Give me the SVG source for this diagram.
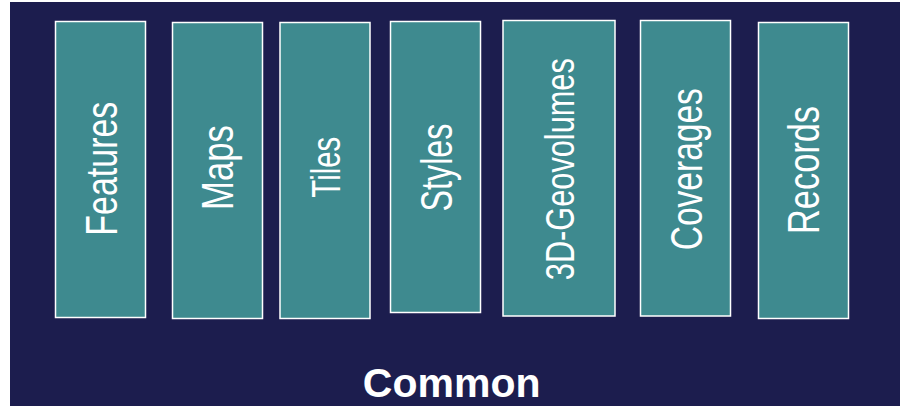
<svg xmlns="http://www.w3.org/2000/svg" width="900" height="406" viewBox="0 0 900 406">
  <style>
    .bg { fill: #1c1d4e; }
    .box { fill: #3e8a8f; stroke: #ffffff; stroke-width: 1.5; }
    .lbl { fill: #ffffff; font-family: "Liberation Sans", Arial, sans-serif; font-size: 44px; text-anchor: middle; }
    .title { fill: #ffffff; font-family: "Liberation Sans", Arial, sans-serif; font-size: 41px; font-weight: bold; text-anchor: middle; }
  </style>
  <rect class="bg" x="10" y="2" width="890" height="404"/>
  <g id="features">
    <rect class="box" x="55.5" y="21.5" width="90" height="296"/>
    <text class="lbl" transform="translate(116.5,168.7) rotate(-90)" textLength="134" lengthAdjust="spacingAndGlyphs">Features</text>
  </g>
  <g id="maps">
    <rect class="box" x="172.5" y="22.5" width="90" height="296"/>
    <text class="lbl" transform="translate(233,167.5) rotate(-90)" textLength="85" lengthAdjust="spacingAndGlyphs">Maps</text>
  </g>
  <g id="tiles">
    <rect class="box" x="280" y="22.5" width="90" height="296"/>
    <text class="lbl" style="font-size:41px" transform="translate(340,167.2) rotate(-90)" textLength="61" lengthAdjust="spacingAndGlyphs">Tiles</text>
  </g>
  <g id="styles">
    <rect class="box" x="390.5" y="21.5" width="90" height="291"/>
    <text class="lbl" transform="translate(451.5,167.5) rotate(-90)" textLength="88" lengthAdjust="spacingAndGlyphs">Styles</text>
  </g>
  <g id="geovolumes">
    <rect class="box" x="503" y="20.5" width="112" height="295.5"/>
    <text class="lbl" style="font-size:40px" transform="translate(573.5,169.2) rotate(-90)" textLength="222" lengthAdjust="spacingAndGlyphs">3D-Geovolumes</text>
  </g>
  <g id="coverages">
    <rect class="box" x="640.5" y="20.5" width="90" height="295.5"/>
    <text class="lbl" transform="translate(701.5,169.2) rotate(-90)" textLength="162" lengthAdjust="spacingAndGlyphs">Coverages</text>
  </g>
  <g id="records">
    <rect class="box" x="758.5" y="22.5" width="90" height="296"/>
    <text class="lbl" transform="translate(819,170) rotate(-90)" textLength="128" lengthAdjust="spacingAndGlyphs">Records</text>
  </g>
  <g id="connectors"></g>
  <g id="common">
    <text class="title" x="451.7" y="396.7">Common</text>
  </g>
</svg>
